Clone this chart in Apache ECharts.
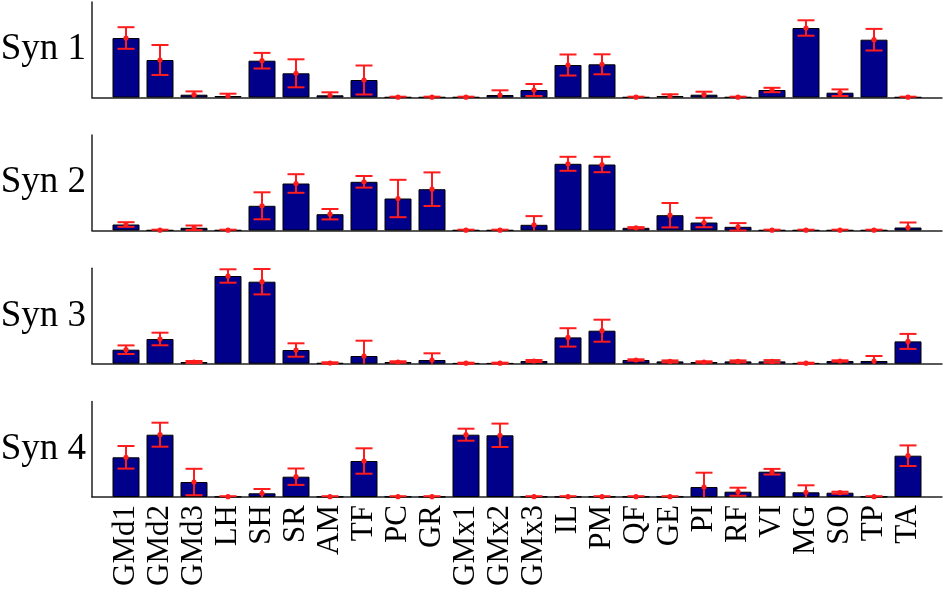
<!DOCTYPE html>
<html>
<head>
<meta charset="utf-8">
<script src="https://cdn.jsdelivr.net/npm/echarts@6/dist/echarts.min.js"></script>
<style>
  html, body { margin: 0; padding: 0; background: #fff; }
  #chart { width: 945px; height: 592px; }
</style>
</head>
<body>
<div id="chart"></div>
<script>
const categories = ["GMd1", "GMd2", "GMd3", "LH", "SH", "SR", "AM", "TF", "PC", "GR", "GMx1", "GMx2", "GMx3", "IL", "PM", "QF", "GE", "PI", "RF", "VI", "MG", "SO", "TP", "TA"];
const synNames = ["Syn 1", "Syn 2", "Syn 3", "Syn 4"];

const syn1Mean = [59.5, 37.5, 2.8, 1.5, 36.8, 24.2, 2.2, 17.5, 0.3, 0.3, 0.3, 2.5, 7.5, 32.5, 33.2, 0.3, 1.5, 2.8, 0.3, 7.5, 69.5, 4.8, 57.8, 0.3];
const syn1Err = [10.8, 15, 3.3, 2.3, 7.8, 14, 3, 14.5, 0.5, 0.5, 0.5, 4.7, 6, 10.5, 10, 0.5, 1.7, 3, 0.5, 2.2, 7.7, 3.3, 10.8, 0.5];

const syn2Mean = [6, 0.3, 2.7, 0.3, 24.7, 47, 16.3, 48.7, 32, 41.3, 0.3, 0.3, 5.7, 66.7, 66, 2.7, 15.3, 8, 3.7, 0.3, 0.3, 0.3, 0.3, 3];
const syn2Err = [2.3, 0.5, 2.3, 0.5, 13.5, 9.3, 5.2, 5.8, 18.7, 16.8, 0.5, 0.5, 8.7, 7, 7.7, 0.7, 12.2, 4.7, 3.7, 0.5, 0.5, 0.5, 0.5, 5];

const syn3Mean = [14, 24.7, 1.7, 87.7, 82, 13.7, 0.7, 7.7, 1.7, 3.7, 0.5, 0.5, 2.7, 26.3, 33, 3.7, 2.3, 1.7, 2.3, 2.3, 0.5, 2.7, 2.7, 22.3];
const syn3Err = [4.3, 6.3, 1, 6.7, 12.7, 6.7, 0.7, 15.3, 0.7, 6.7, 0.5, 0.5, 1, 9.2, 11, 0.7, 1, 0.7, 1, 1.3, 0.5, 0.7, 5, 7.5];

const syn4Mean = [39.7, 62.3, 15, 0.3, 3.7, 20.3, 0.3, 36, 0.3, 0.3, 62.3, 61.7, 0.3, 0.3, 0.3, 0.3, 0.3, 10, 5.3, 25.3, 4.7, 4.3, 0.3, 41.3];
const syn4Err = [11.3, 12, 13.2, 0.5, 4.3, 8.2, 0.5, 12.7, 0.5, 0.5, 6, 11.7, 0.5, 0.5, 0.5, 0.5, 0.5, 14.3, 4, 2.8, 7, 1, 0.5, 10.3];

const yMax = 95.5;

const means = [syn1Mean, syn2Mean, syn3Mean, syn4Mean];
const errs = [syn1Err, syn2Err, syn3Err, syn4Err];

// padded category list so ticks sit at 1..24 on a 0..25 range
const xCats = [""].concat(categories, [""]);

const chart = echarts.init(document.getElementById("chart"));
const font = "Liberation Serif, Times New Roman, serif";
const gridTops = [2, 135, 268.2, 401.5];

const renderErr = (params, api) => {
  const idx = api.value(0);
  const v = api.value(1);
  const e = api.value(2);
  const low = Math.max(0, v - e);
  const pc = api.coord([idx, v]);
  const pt = api.coord([idx, v + e]);
  const pb = api.coord([idx, low]);
  const half = 8.5;
  const style = { stroke: "#ff1c1c", lineWidth: 2 };
  const children = [
    { type: "line", shape: { x1: pc[0], y1: pt[1], x2: pc[0], y2: pb[1] }, style },
    { type: "line", shape: { x1: pc[0] - half, y1: pt[1], x2: pc[0] + half, y2: pt[1] }, style },
  ];
  if (v - e >= 0) {
    children.push({ type: "line", shape: { x1: pc[0] - half, y1: pb[1], x2: pc[0] + half, y2: pb[1] }, style });
  }
  children.push({ type: "circle", shape: { cx: pc[0], cy: pc[1], r: 2.6 }, style: { fill: "#ff1c1c" } });
  return { type: "group", children };
};

let grid = [];
let xAxis = [];
let yAxis = [];
let series = [];
synNames.forEach((name, p) => {
  grid.push({ left: 92, right: 3, top: gridTops[p], height: 95.5, outerBoundsMode: "none", containLabel: false });
  xAxis.push({
    type: "category",
    gridIndex: p,
    data: xCats,
    boundaryGap: false,
    axisLine: { show: true, lineStyle: { color: "#222", width: 1.5 } },
    axisTick: { show: false },
    axisLabel: {
      show: p === 3,
      interval: 0,
      rotate: 90,
      margin: 8,
      fontSize: 31,
      fontFamily: font,
      color: "#000",
    },
    splitLine: { show: false },
  });
  yAxis.push({
    type: "value",
    gridIndex: p,
    min: 0,
    max: yMax,
    name: name,
    nameLocation: "middle",
    nameRotate: 0,
    nameGap: 6,
    nameTextStyle: { fontSize: 37, fontFamily: font, color: "#000", align: "right", verticalAlign: "middle", padding: [4, 0, 0, 0] },
    axisLine: { show: true, lineStyle: { color: "#222", width: 1.5 } },
    axisTick: { show: false },
    axisLabel: { show: false },
    splitLine: { show: false },
  });
  series.push({
    type: "bar",
    xAxisIndex: p,
    yAxisIndex: p,
    barWidth: 27,
    data: categories.map((c, i) => [c, means[p][i]]),
    itemStyle: { color: "#00008b", borderColor: "#000", borderWidth: 1 },
    silent: true,
  });
  series.push({
    type: "custom",
    xAxisIndex: p,
    yAxisIndex: p,
    renderItem: renderErr,
    data: categories.map((c, i) => [c, means[p][i], errs[p][i]]),
    z: 5,
    silent: true,
  });
});

chart.setOption({
  animation: false,
  grid,
  xAxis,
  yAxis,
  series,
});
</script>
</body>
</html>
